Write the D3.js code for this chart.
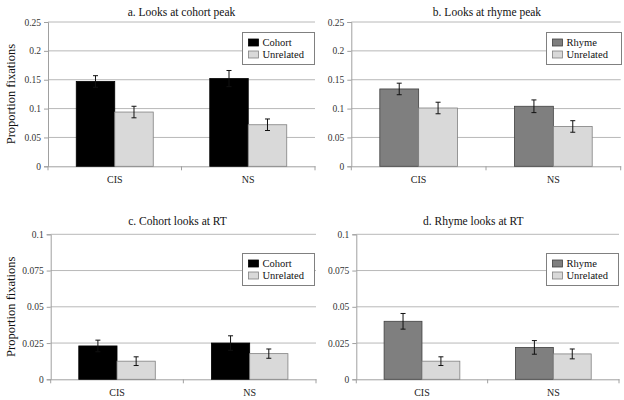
<!DOCTYPE html>
<html><head><meta charset="utf-8">
<script src="https://cdn.jsdelivr.net/npm/d3@7"></script>
<style>body{margin:0;background:#fff}svg{display:block}</style>
</head><body>
<svg id="chart" width="624" height="400"></svg>
<script>
const categories = ["CIS", "NS"];

const cohortPeak = [0.147, 0.152];
const cohortPeakErr = [0.010, 0.014];
const unrelatedPeakA = [0.094, 0.072];
const unrelatedPeakAErr = [0.010, 0.010];

const rhymePeak = [0.134, 0.104];
const rhymePeakErr = [0.010, 0.011];
const unrelatedPeakB = [0.101, 0.069];
const unrelatedPeakBErr = [0.010, 0.010];

const cohortRT = [0.023, 0.025];
const cohortRTErr = [0.004, 0.005];
const unrelatedRTc = [0.0125, 0.0177];
const unrelatedRTcErr = [0.003, 0.0032];

const rhymeRT = [0.040, 0.022];
const rhymeRTErr = [0.0054, 0.0047];
const unrelatedRTd = [0.0125, 0.0175];
const unrelatedRTdErr = [0.003, 0.0034];

const peakTicks = [0, 0.05, 0.1, 0.15, 0.2, 0.25];
const peakTickLabels = ["0", "0.05", "0.1", "0.15", "0.2", "0.25"];
const rtTicks = [0, 0.025, 0.05, 0.075, 0.1];
const rtTickLabels = ["0", "0.025", "0.05", "0.075", "0.1"];

const titles = ["a. Looks at cohort peak", "b. Looks at rhyme peak", "c. Cohort  looks at RT", "d. Rhyme  looks at RT"];
const yLabel = "Proportion fixations";

const FONT = '"Liberation Serif", "Times New Roman", Times, "DejaVu Serif", serif';

const colors = {Cohort: "#000000", Rhyme: "#7f7f7f", Unrelated: "#d9d9d9"};
const strokes = {Cohort: "#000000", Rhyme: "#404040", Unrelated: "#808080"};

const panels = [
  {title: titles[0], x0: 48, x1: 315, yTop: 22, yZero: 166.3, max: 0.25, ticks: peakTicks, labels: peakTickLabels,
   series: [{name: "Cohort", v: cohortPeak, e: cohortPeakErr}, {name: "Unrelated", v: unrelatedPeakA, e: unrelatedPeakAErr}],
   titleX: 181.5, titleY: 16, ylab: true, legend: {x: 242.5, y: 32.5, w: 72, h: 32}},
  {title: titles[1], x0: 351.3, x1: 620.7, yTop: 22, yZero: 166.3, max: 0.25, ticks: peakTicks, labels: peakTickLabels,
   series: [{name: "Rhyme", v: rhymePeak, e: rhymePeakErr}, {name: "Unrelated", v: unrelatedPeakB, e: unrelatedPeakBErr}],
   titleX: 487, titleY: 16, ylab: false, legend: {x: 546.5, y: 32.5, w: 75, h: 32}},
  {title: titles[2], x0: 50.7, x1: 316, yTop: 234.3, yZero: 379.3, max: 0.1, ticks: rtTicks, labels: rtTickLabels,
   series: [{name: "Cohort", v: cohortRT, e: cohortRTErr}, {name: "Unrelated", v: unrelatedRTc, e: unrelatedRTcErr}],
   titleX: 177.5, titleY: 225, ylab: true, legend: {x: 242.5, y: 253.5, w: 72, h: 32}},
  {title: titles[3], x0: 356.3, x1: 619, yTop: 234.3, yZero: 379.3, max: 0.1, ticks: rtTicks, labels: rtTickLabels,
   series: [{name: "Rhyme", v: rhymeRT, e: rhymeRTErr}, {name: "Unrelated", v: unrelatedRTd, e: unrelatedRTdErr}],
   titleX: 473.3, titleY: 225, ylab: false, legend: {x: 546.5, y: 253.5, w: 72, h: 32}}
];

const svg = d3.select("#chart");

panels.forEach(p => {
  const g = svg.append("g");
  const y = d3.scaleLinear().domain([0, p.max]).range([p.yZero, p.yTop]);
  const x = d3.scaleBand().domain(categories).range([p.x0, p.x1]).paddingInner(0).paddingOuter(0);
  const xs = d3.scaleBand().domain(p.series.map(s => s.name)).range([0, x.bandwidth()]).paddingInner(0).paddingOuter(0.734);

  // gridlines
  g.selectAll(".grid").data(p.ticks.filter(t => t > 0)).join("line")
    .attr("x1", p.x0).attr("x2", p.x1)
    .attr("y1", d => y(d)).attr("y2", d => y(d))
    .attr("stroke", "#b8b8b8").attr("stroke-width", 1);

  // y axis
  const yAxis = d3.axisLeft(y).tickValues(p.ticks).tickFormat((d, i) => p.labels[i]).tickSize(4).tickPadding(3);
  const ya = g.append("g").attr("transform", `translate(${p.x0},0)`).call(yAxis).attr("font-family", FONT);
  ya.select(".domain").attr("stroke", "#a0a0a0");
  ya.selectAll(".tick line").attr("stroke", "#a0a0a0");
  ya.selectAll(".tick text").attr("fill", "#333").attr("font-size", 9.5).attr("font-family", FONT);

  // x axis
  const xAxis = d3.axisBottom(x).tickSize(0).tickPadding(10);
  const xa = g.append("g").attr("transform", `translate(0,${p.yZero})`).call(xAxis).attr("font-family", FONT);
  xa.select(".domain").attr("stroke", "#a0a0a0");
  xa.selectAll(".tick text").attr("fill", "#222").attr("font-size", 10).attr("font-family", FONT);
  // category separator ticks
  g.selectAll(".sep").data([p.x0, ...categories.map(c => x(c) + x.bandwidth())]).join("line")
    .attr("x1", d => d).attr("x2", d => d).attr("y1", p.yZero).attr("y2", p.yZero + 4)
    .attr("stroke", "#a0a0a0");

  // bars
  p.series.forEach(s => {
    categories.forEach((c, i) => {
      const bx = x(c) + xs(s.name);
      g.append("rect")
        .attr("x", bx).attr("y", y(s.v[i]))
        .attr("width", xs.bandwidth()).attr("height", y(0) - y(s.v[i]))
        .attr("fill", colors[s.name]).attr("stroke", strokes[s.name]).attr("stroke-width", 0.8);
      const cx = bx + xs.bandwidth() / 2;
      const top = y(s.v[i] + s.e[i]), bot = y(s.v[i] - s.e[i]);
      g.append("line").attr("x1", cx).attr("x2", cx).attr("y1", top).attr("y2", bot).attr("stroke", "#111").attr("stroke-width", 1);
      g.append("line").attr("x1", cx - 2.5).attr("x2", cx + 2.5).attr("y1", top).attr("y2", top).attr("stroke", "#111").attr("stroke-width", 1);
      g.append("line").attr("x1", cx - 2.5).attr("x2", cx + 2.5).attr("y1", bot).attr("y2", bot).attr("stroke", "#111").attr("stroke-width", 1);
    });
  });

  // title
  g.append("text").attr("x", p.titleX).attr("y", p.titleY).attr("text-anchor", "middle")
    .attr("fill", "#111").attr("font-family", FONT).attr("font-size", 11.5).text(p.title);

  // y label
  if (p.ylab) {
    const cy = (p.yTop + p.yZero) / 2;
    g.append("text").attr("transform", `translate(15,${cy}) rotate(-90)`).attr("text-anchor", "middle")
      .attr("fill", "#111").attr("font-family", FONT).attr("font-size", 12.5).text(yLabel);
  }

  // legend
  const L = p.legend;
  const lg = g.append("g").attr("transform", `translate(${L.x},${L.y})`);
  lg.append("rect").attr("width", L.w).attr("height", L.h).attr("fill", "#fff").attr("stroke", "#808080").attr("stroke-width", 1);
  p.series.forEach((s, i) => {
    const ry = 10 + i * 12;
    lg.append("rect").attr("x", 6).attr("y", ry - 3.5).attr("width", 10).attr("height", 7)
      .attr("fill", colors[s.name]).attr("stroke", strokes[s.name]).attr("stroke-width", 0.8);
    lg.append("text").attr("x", 20).attr("y", ry + 3.5).attr("fill", "#111").attr("font-family", FONT).attr("font-size", 10.5).text(s.name);
  });
});
</script>
</body></html>
